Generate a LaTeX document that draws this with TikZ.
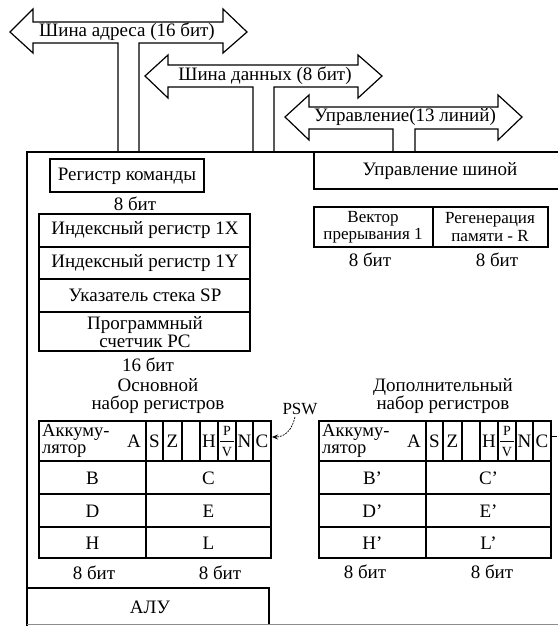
\documentclass[tikz,border=0pt]{standalone}
\usepackage{fontspec}
\setmainfont{Liberation Serif}
\usetikzlibrary{arrows.meta}
\tikzset{
  lbl/.style={font=\fontsize{19}{18}\selectfont, inner sep=0pt},
  sml/.style={font=\fontsize{17}{17.5}\selectfont, inner sep=0pt},
  acc/.style={font=\fontsize{18.5}{17.5}\selectfont, inner sep=0pt},
  tiny/.style={font=\fontsize{14}{12}\selectfont, inner sep=0pt},
  ln/.style={line width=1.3pt, line join=miter},
  bus/.style={line width=1.2pt, fill=white, line join=miter},
}
\begin{document}
\begin{tikzpicture}[x=1pt,y=-1pt]
\useasboundingbox (0,0) rectangle (558,626);
% address bus
\draw[bus] (10,32) -- (33,9) -- (33,22) -- (223,22) -- (223,9) -- (247,32) -- (223,53) -- (223,43) -- (139,43) -- (139,152)
  -- (118,152) -- (118,43) -- (33,43) -- (33,53) -- cycle;
\node[lbl] (abus) at (127,32) {Шина адреса (16 бит)};
% data bus
\draw[bus] (145,76) -- (168,55) -- (168,65) -- (358,65) -- (358,55) -- (382,76) -- (358,98) -- (358,87) -- (274,87) -- (274,152)
  -- (253,152) -- (253,87) -- (168,87) -- (168,98) -- cycle;
\node[lbl] (dbus) at (265,76) {Шина данных (8 бит)};
% control bus
\draw[bus] (285,117) -- (309,95) -- (309,107) -- (498,107) -- (498,95) -- (522,117) -- (498,140) -- (498,129) -- (415,129) -- (415,152)
  -- (393,152) -- (393,129) -- (309,129) -- (309,140) -- cycle;
\node[lbl] (cbus) at (405,117) {Управление(13 линий)};
% main frame
\draw[ln] (27,152) -- (558,152);
\draw[line width=2.4pt] (27,151) -- (27,626);
\draw[line width=0.8pt, black!45] (27,624) -- (558,624);
% bus control box
\draw[ln] (314,152) -- (314,189) -- (558,189);
\node[lbl] (busctl) at (440,171) {Управление шиной};
% instruction register
\draw[ln] (50,159) rectangle (204,192);
\node[lbl] (ir) at (127,176) {Регистр команды};
\node[lbl] (irb) at (135,204) {8 бит};
% register stack
\draw[ln] (39,214) rectangle (250,351);
\draw[ln] (39,247) -- (250,247) (39,279) -- (250,279) (39,312) -- (250,312);
\node[lbl] (ix) at (145,230) {Индексный регистр 1X};
\node[lbl] (iy) at (145,263) {Индексный регистр 1Y};
\node[lbl] (sp) at (145,295) {Указатель стека SP};
\node[lbl, align=center] (pc) at (145,332) {Программный\\счетчик PC};
\node[lbl] (pcb) at (148,365) {16 бит};
% interrupt / refresh
\draw[ln] (314,207) rectangle (548,247);
\draw[ln] (433,207) -- (433,247);
\node[sml, align=center] (iv) at (373,227) {Вектор\\прерывания 1};
\node[sml, align=center] (rr) at (490,227) {Регенерация\\памяти - R};
\node[lbl] (ivb) at (370,260) {8 бит};
\node[lbl] (rrb) at (497,260) {8 бит};
% register sets
\node[lbl, align=center] (mainset) at (158,396) {Основной\\набор регистров};
\node[lbl, align=center] (altset) at (443,396) {Дополнительный\\набор регистров};
\foreach \ox/\nm/\pr in {0/m/, 280/a/'} {
  \begin{scope}[xshift=\ox]
  \draw[ln] (39,421) rectangle (271,558);
  \draw[ln] (39,461) -- (271,461) (39,494) -- (271,494) (39,527) -- (271,527);
  \draw[ln] (146,421) -- (146,558);
  \foreach \xx in {163,182,200,218,236,253} \draw[ln] (\xx,421) -- (\xx,461);
  \node[acc, anchor=west, align=left] (acc\nm) at (42,441) {Аккуму-\\лятор};
  \node[lbl] (A\nm) at (134,441) {A};
  \node[lbl] (S\nm) at (154.5,441) {S};
  \node[lbl] (Z\nm) at (172.5,441) {Z};
  \node[lbl] (H\nm) at (209,441) {H};
  \node[tiny] (P\nm) at (227,431) {P};
  \draw[line width=0.9pt] (220,441) -- (234,441);
  \node[tiny] (V\nm) at (227,452) {V};
  \node[lbl] (N\nm) at (244.5,441) {N};
  \node[lbl] (C\nm) at (262,441) {C};
  \node[lbl] (rB\nm) at (92.5,478) {B\pr};
  \node[lbl] (rC\nm) at (208.5,478) {C\pr};
  \node[lbl] (rD\nm) at (92.5,511) {D\pr};
  \node[lbl] (rE\nm) at (208.5,511) {E\pr};
  \node[lbl] (rH\nm) at (92.5,543) {H\pr};
  \node[lbl] (rL\nm) at (208.5,543) {L\pr};
  \end{scope}
}
\node[lbl] (b1) at (94,573) {8 бит};
\node[lbl] (b2) at (220,573) {8 бит};
\node[lbl] (b3) at (365,572) {8 бит};
\node[lbl] (b4) at (492,572) {8 бит};
% PSW
\node[sml] (psw) at (300,409) {PSW};
\coordinate (pswtip) at (272,437);
\draw[line width=0.7pt, dash pattern=on 2pt off 1pt, -{Stealth[length=6pt,width=5pt]}] (psw.south) ++(-5,2) .. controls (292,430) and (285,437) .. (pswtip);
\coordinate (altstub) at (557,436);
\draw[line width=0.9pt] (551,436) -- (altstub);
% ALU
\draw[ln] (27,588) -- (269,588) -- (269,624);
\node[lbl] (alu) at (150,607) {АЛУ};
\end{tikzpicture}
\end{document}
